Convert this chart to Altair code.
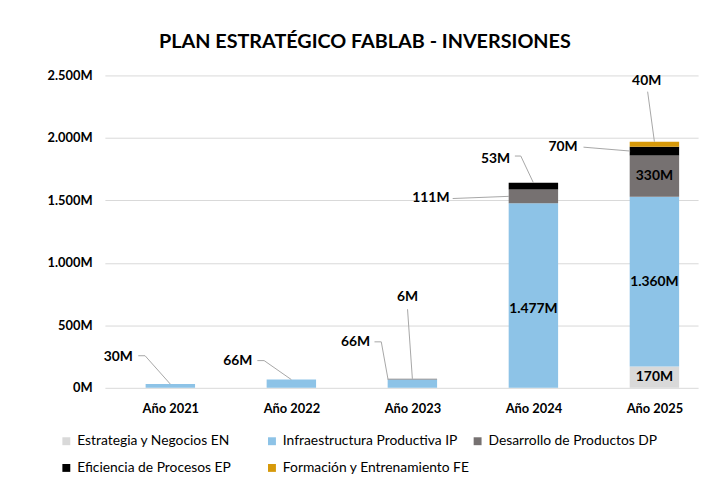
import json
import altair as alt
import pandas as pd

# ---------------- data ----------------
years = ["Año 2021", "Año 2022", "Año 2023", "Año 2024", "Año 2025"]
series = [
    "Estrategia y Negocios EN",
    "Infraestructura Productiva IP",
    "Desarrollo de Productos DP",
    "Eficiencia de Procesos EP",
    "Formación y Entrenamiento FE",
]
colors = ["#d9d9d9", "#8dc3e7", "#767171", "#000000", "#d6990a"]

en = [0, 0, 0, 0, 170]
ip = [30, 66, 66, 1477, 1360]
dp = [0, 0, 6, 111, 330]
ep = [0, 0, 0, 53, 70]
fe = [0, 0, 0, 0, 40]

y_ticks = [0, 500, 1000, 1500, 2000, 2500]

# ---------------- label layout (annotation geometry) ----------------
# (year idx, series idx, anchor kind, label x, label y, leader bend points)
callouts = [
    (0, 1, "top", -0.43, 249, [(-0.265, 257), (-0.209, 257)]),
    (1, 1, "top", 0.558, 218, [(0.719, 218), (0.775, 218)]),
    (2, 1, "lefttop", 1.53, 368, [(1.687, 368), (1.743, 368)]),
    (2, 2, "top", 1.96, 724, [(1.96, 629)]),
    (3, 2, "leftmid", 2.153, 1515, [(2.333, 1515)]),
    (3, 3, "top", 2.687, 1831, [(2.847, 1855), (2.896, 1855)]),
    (4, 3, "leftmid", 3.245, 1926, [(3.414, 1926)]),
    (4, 4, "top", 3.936, 2456, [(3.944, 2370)]),
]
# (year idx, series idx, vertical nudge in M)
inside = [(3, 1, -110), (4, 0, 0), (4, 1, 0), (4, 2, 0)]

HALF = 25 / 124.5

# ---------------- build tables ----------------
values = [en, ip, dp, ep, fe]


def fmt(v):
    return f"{v:,}".replace(",", ".") + "M"


def seg(i, s):
    start = sum(values[k][i] for k in range(s))
    return start, start + values[s][i]


bars = []
for i in range(len(years)):
    for s in range(len(series)):
        v = values[s][i]
        if v > 0:
            bars.append(dict(idx=i, serie=series[s], orden=s, valor=v))
bars_df = pd.DataFrame(bars)

texts = []
lines = []
for n, (i, s, kind, lx, ly, bends) in enumerate(callouts):
    a, b = seg(i, s)
    if kind == "top":
        ax, ay = i, b
    elif kind == "lefttop":
        ax, ay = i - HALF, b
    else:
        ax, ay = i - HALF, (a + b) / 2
    texts.append(dict(x=lx, y=ly, t=fmt(values[s][i])))
    pts = list(bends) + [(ax, ay)]
    for k, (px, py) in enumerate(pts):
        lines.append(dict(g=n, k=k, x=px, y=py))
for i, s, nudge in inside:
    a, b = seg(i, s)
    texts.append(dict(x=i, y=(a + b) / 2 + nudge, t=fmt(values[s][i])))

texts_df = pd.DataFrame(texts)
lines_df = pd.DataFrame(lines)

FONT = "Lato"
xscale = alt.Scale(domain=[-0.5, 4.32], nice=False, zero=False)
yscale = alt.Scale(domain=[0, 2500], nice=False)

bar_layer = alt.Chart(bars_df).mark_bar(size=50, orient="vertical").encode(
    x=alt.X(
        "idx:Q",
        scale=xscale,
        axis=alt.Axis(
            values=list(range(len(years))),
            labelExpr=json.dumps(years) + "[datum.value]",
            grid=False,
            domain=False,
            ticks=False,
            labelFlush=False,
            labelOverlap=False,
            labelFont=FONT,
            labelFontWeight="bold",
            labelFontSize=13,
            labelColor="#000000",
            labelPadding=15,
            title=None,
        ),
    ),
    y=alt.Y(
        "valor:Q",
        stack="zero",
        scale=yscale,
        axis=alt.Axis(
            values=y_ticks,
            labelExpr="replace(format(datum.value, ','), ',', '.') + 'M'",
            grid=True,
            gridColor="#d9d9d9",
            gridWidth=1,
            domain=False,
            ticks=False,
            labelFont=FONT,
            labelFontWeight="bold",
            labelFontSize=13,
            labelColor="#000000",
            labelPadding=13,
            title=None,
        ),
    ),
    color=alt.Color(
        "serie:N",
        scale=alt.Scale(domain=series, range=colors),
        legend=alt.Legend(
            title=None,
            orient="none",
            legendX=-46,
            legendY=363,
            direction="horizontal",
            columns=3,
            gridAlign="all",
            columnPadding=-4,
            rowPadding=13,
            symbolType="square",
            symbolSize=64,
            symbolStrokeWidth=0,
            labelFont=FONT,
            labelFontSize=14,
            labelColor="#000000",
            labelOffset=4,
            labelLimit=300,
            padding=0,
        ),
    ),
    order=alt.Order("orden:Q"),
)

line_layer = alt.Chart(lines_df).mark_line(color="#a6a6a6", strokeWidth=1).encode(
    x=alt.X("x:Q", scale=xscale),
    y=alt.Y("y:Q", scale=yscale),
    detail="g:N",
    order="k:Q",
)

text_layer = alt.Chart(texts_df).mark_text(
    font=FONT, fontSize=14, fontWeight="bold", color="#000000", baseline="middle", align="center"
).encode(
    x=alt.X("x:Q", scale=xscale),
    y=alt.Y("y:Q", scale=yscale),
    text="t:N",
)

chart = (
    alt.layer(bar_layer, line_layer, text_layer)
    .properties(
        width=600,
        height=316,
        title=alt.TitleParams(
            "PLAN ESTRATÉGICO FABLAB - INVERSIONES",
            font=FONT,
            fontSize=20,
            fontWeight="bold",
            color="#000000",
            dx=-37,
            offset=18,
        ),
        autosize=alt.AutoSizeParams(type="none"),
        padding={"left": 98, "top": 65.5, "right": 7, "bottom": 90},
    )
    .configure_view(stroke=None)
)

chart.save("out.html", embed_options={"renderer": "svg", "actions": False})
